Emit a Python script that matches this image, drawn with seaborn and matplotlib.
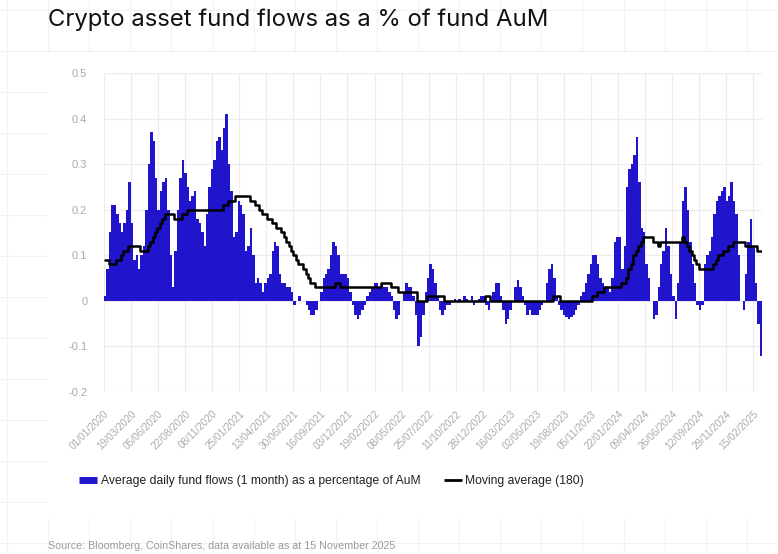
import matplotlib
matplotlib.use("Agg")
import matplotlib.pyplot as plt
from matplotlib.lines import Line2D
from matplotlib.patches import Rectangle
import seaborn as sns
import pandas as pd

# weekly data, first week starting 01/01/2020
start_date = "2020-01-01"

flows = [
    0.01, 0.07, 0.15, 0.21, 0.21, 0.19, 0.17, 0.15, 0.17, 0.20,
    0.26, 0.17, 0.09, 0.10, 0.07, 0.10, 0.12, 0.20, 0.30, 0.37,
    0.35, 0.27, 0.20, 0.24, 0.26, 0.27, 0.20, 0.10, 0.03, 0.11,
    0.20, 0.27, 0.31, 0.28, 0.25, 0.22, 0.23, 0.24, 0.18, 0.17,
    0.15, 0.12, 0.19, 0.25, 0.29, 0.31, 0.35, 0.36, 0.33, 0.38,
    0.41, 0.30, 0.24, 0.14, 0.15, 0.22, 0.21, 0.19, 0.11, 0.12,
    0.16, 0.10, 0.04, 0.05, 0.04, 0.02, 0.04, 0.05, 0.06, 0.11,
    0.13, 0.12, 0.06, 0.04, 0.04, 0.03, 0.03, 0.02, -0.01, 0.00,
    0.01, 0.00, 0.00, -0.01, -0.02, -0.03, -0.03, -0.02, 0.00, 0.02,
    0.05, 0.06, 0.07, 0.10, 0.13, 0.12, 0.10, 0.06, 0.06, 0.06,
    0.05, 0.02, -0.01, -0.03, -0.04, -0.03, -0.02, -0.01, 0.01, 0.02,
    0.03, 0.04, 0.04, 0.03, 0.04, 0.03, 0.03, 0.02, 0.01, -0.02,
    -0.04, -0.03, 0.00, 0.02, 0.04, 0.03, 0.03, 0.01, -0.03, -0.10,
    -0.08, -0.03, 0.02, 0.05, 0.08, 0.07, 0.04, 0.01, -0.02, -0.03,
    -0.02, -0.01, -0.01, 0.00, 0.005, 0.00, 0.005, 0.00, 0.01, 0.005,
    0.00, 0.01, -0.01, 0.00, 0.005, 0.01, 0.01, -0.01, -0.02, 0.00,
    0.02, 0.04, 0.04, 0.01, -0.02, -0.05, -0.04, -0.02, 0.00, 0.03,
    0.045, 0.03, 0.01, -0.01, -0.03, -0.02, -0.03, -0.03, -0.03, -0.02,
    -0.01, 0.00, 0.04, 0.07, 0.08, 0.05, 0.01, -0.01, -0.02, -0.03,
    -0.035, -0.04, -0.035, -0.03, -0.02, -0.01, 0.01, 0.02, 0.04, 0.06,
    0.08, 0.10, 0.10, 0.08, 0.05, 0.04, 0.03, 0.03, 0.02, 0.05,
    0.13, 0.14, 0.14, 0.07, 0.12, 0.25, 0.29, 0.30, 0.32, 0.36,
    0.26, 0.16, 0.15, 0.08, 0.05, 0.00, -0.04, -0.03, 0.03, 0.08,
    0.11, 0.16, 0.12, 0.06, 0.01, -0.04, 0.04, 0.13, 0.22, 0.25,
    0.20, 0.13, 0.08, 0.04, -0.01, -0.02, -0.01, 0.08, 0.10, 0.11,
    0.14, 0.19, 0.22, 0.23, 0.24, 0.25, 0.22, 0.23, 0.26, 0.22,
    0.19, 0.10, 0.00, -0.02, 0.06, 0.13, 0.18, 0.12, 0.04, -0.05,
    -0.12,
]

# moving average (180)
moving_avg = [
    0.09, 0.09, 0.08, 0.08, 0.08, 0.09, 0.09, 0.10, 0.11, 0.11,
    0.12, 0.12, 0.12, 0.12, 0.12, 0.11, 0.11, 0.11, 0.12, 0.13,
    0.14, 0.15, 0.16, 0.17, 0.18, 0.19, 0.19, 0.19, 0.19, 0.18,
    0.18, 0.18, 0.19, 0.19, 0.20, 0.20, 0.20, 0.20, 0.20, 0.20,
    0.20, 0.20, 0.20, 0.20, 0.20, 0.20, 0.20, 0.20, 0.20, 0.21,
    0.21, 0.22, 0.22, 0.22, 0.23, 0.23, 0.23, 0.23, 0.23, 0.23,
    0.22, 0.22, 0.21, 0.21, 0.20, 0.19, 0.19, 0.18, 0.18, 0.17,
    0.17, 0.16, 0.16, 0.15, 0.14, 0.13, 0.12, 0.11, 0.10, 0.09,
    0.08, 0.08, 0.07, 0.06, 0.05, 0.04, 0.04, 0.03, 0.03, 0.03,
    0.03, 0.03, 0.03, 0.03, 0.03, 0.04, 0.04, 0.03, 0.03, 0.03,
    0.03, 0.03, 0.03, 0.03, 0.03, 0.03, 0.03, 0.03, 0.03, 0.03,
    0.03, 0.03, 0.03, 0.03, 0.04, 0.04, 0.04, 0.04, 0.03, 0.03,
    0.03, 0.02, 0.02, 0.02, 0.02, 0.02, 0.02, 0.02, 0.02, 0.00,
    0.00, 0.00, 0.00, 0.01, 0.01, 0.01, 0.01, 0.01, 0.01, 0.01,
    0.00, 0.00, 0.00, 0.00, 0.00, 0.00, 0.00, 0.00, 0.00, 0.00,
    0.00, 0.00, 0.00, 0.00, 0.00, 0.00, 0.00, 0.01, 0.01, 0.00,
    0.00, 0.00, 0.00, 0.00, 0.00, 0.00, 0.00, 0.00, 0.00, 0.00,
    0.00, 0.00, 0.00, 0.00, 0.00, 0.00, 0.00, 0.00, 0.00, 0.00,
    0.00, 0.00, 0.00, 0.00, 0.00, 0.01, 0.01, 0.01, 0.00, 0.00,
    0.00, 0.00, 0.00, 0.00, 0.00, 0.00, 0.00, 0.00, 0.00, 0.00,
    0.00, 0.01, 0.01, 0.02, 0.02, 0.02, 0.03, 0.03, 0.03, 0.03,
    0.03, 0.03, 0.03, 0.04, 0.04, 0.05, 0.07, 0.08, 0.10, 0.11,
    0.12, 0.13, 0.14, 0.14, 0.14, 0.14, 0.13, 0.13, 0.12, 0.13,
    0.13, 0.13, 0.13, 0.13, 0.13, 0.13, 0.13, 0.13, 0.14, 0.13,
    0.12, 0.11, 0.10, 0.09, 0.08, 0.07, 0.07, 0.07, 0.07, 0.07,
    0.07, 0.08, 0.09, 0.10, 0.10, 0.11, 0.11, 0.12, 0.12, 0.13,
    0.13, 0.13, 0.13, 0.13, 0.12, 0.12, 0.12, 0.12, 0.12, 0.11,
    0.11,
]

tick_labels = [
    "01/01/2020", "19/03/2020", "05/06/2020", "22/08/2020", "08/11/2020",
    "25/01/2021", "13/04/2021", "30/06/2021", "16/09/2021", "03/12/2021",
    "19/02/2022", "08/05/2022", "25/07/2022", "11/10/2022", "28/12/2022",
    "16/03/2023", "02/06/2023", "19/08/2023", "05/11/2023", "22/01/2024",
    "09/04/2024", "26/06/2024", "12/09/2024", "29/11/2024", "15/02/2025",
]
y_ticks = [-0.2, -0.1, 0, 0.1, 0.2, 0.3, 0.4, 0.5]
y_tick_labels = ["-0.2", "-0.1", "0", "0.1", "0.2", "0.3", "0.4", "0.5"]

title = "Crypto asset fund flows as a % of fund AuM"
bar_label = "Average daily fund flows (1 month) as a percentage of AuM"
line_label = "Moving average (180)"
source = "Source: Bloomberg, CoinShares, data available as at 15 November 2025"

bar_color = "#2014cc"

dates = pd.date_range(start_date, periods=len(flows), freq="7D")
df = pd.DataFrame({"date": dates, "flow": flows, "ma": moving_avg})
df["mid"] = df["date"] + pd.Timedelta(days=3.5)
tick_dates = pd.to_datetime(tick_labels, format="%d/%m/%Y")

sns.set_style("white")
plt.rcParams["font.family"] = ["Liberation Sans", "DejaVu Sans"]

W, H = 778, 554
fig = plt.figure(figsize=(W / 100, H / 100), dpi=100)
fig.patch.set_facecolor("white")

# faint page grid behind the card
for i in range(20):
    x = (7 + 41.1 * i) / W
    fig.add_artist(Line2D([x, x], [0, 1], color="#f2f2f2", lw=0.8, zorder=0))
for i in range(14):
    y = 1 - (10 + 41 * i) / H
    fig.add_artist(Line2D([0, 1], [y, y], color="#f2f2f2", lw=0.8, zorder=0))
fig.add_artist(Rectangle((48 / W, 1 - 518 / H), (W - 48) / W, (518 - 52) / H,
                         facecolor="white", edgecolor="none", zorder=0.5))

ax = fig.add_axes([104 / W, 1 - 392 / H, (762 - 104) / W, (392 - 73) / H])
ax.set_facecolor("white")
ax.set_zorder(1)

ax.bar(df["date"], df["flow"], width=7, align="edge", color=bar_color,
       linewidth=0, label=bar_label)
sns.lineplot(data=df, x="mid", y="ma", ax=ax, color="black", lw=1.8,
             drawstyle="steps-mid", label=line_label, legend=False)

ax.set_xlim(dates[0], dates[-1] + pd.Timedelta(days=7))
ax.set_ylim(-0.2, 0.5)
ax.set_yticks(y_ticks)
ax.set_yticklabels(y_tick_labels)
ax.set_xticks(tick_dates)
ax.set_xticklabels(tick_labels, rotation=45, ha="right", rotation_mode="anchor")
ax.tick_params(axis="both", length=0, colors="#aaaaaa", labelsize=7.2)
ax.tick_params(axis="x", pad=12)
ax.tick_params(axis="y", pad=12, labelsize=8)
ax.grid(True, color="#ececec", lw=0.8)
ax.set_axisbelow(True)
ax.set_xlabel("")
ax.set_ylabel("")
sns.despine(ax=ax, left=True, bottom=True)

fig.text(48 / W, 1 - 20 / H, title, fontsize=17.2, va="center", ha="left",
         color="#111111", family=["Inter", "DejaVu Sans"])

handles = [
    Line2D([0], [0], color=bar_color, lw=5, solid_capstyle="butt"),
    Line2D([0], [0], color="black", lw=2, solid_capstyle="butt"),
]
fig.legend(handles, [bar_label, line_label], loc="center left",
           bbox_to_anchor=(68 / W, 1 - 481 / H), ncol=2, frameon=False,
           fontsize=8.75, handlelength=1.5, handletextpad=0.3,
           columnspacing=1.9, labelcolor="#222222")

fig.text(48 / W, 1 - 546 / H, source, fontsize=7.7, va="center", ha="left",
         color="#9a9a9a")

fig.savefig("out.png", dpi=100)
